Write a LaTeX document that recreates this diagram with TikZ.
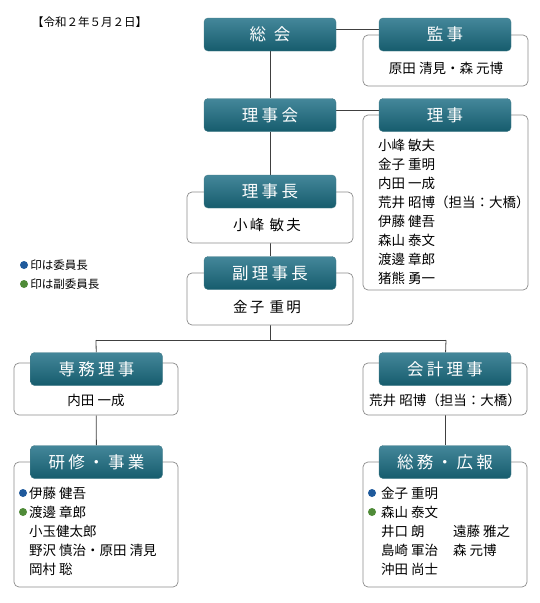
\documentclass[tikz,border=0pt]{standalone}
\usepackage{fontspec}
\setmainfont{Noto Sans CJK JP}
\usetikzlibrary{positioning,backgrounds}
\definecolor{headtop}{HTML}{44879A}
\definecolor{headbot}{HTML}{165C6D}
\definecolor{frame}{HTML}{8C8C8C}
\definecolor{chairdot}{HTML}{1F5A9C}
\definecolor{vicedot}{HTML}{4F8B38}
\tikzset{
  headbox/.style={rounded corners=4pt, top color=headtop, bottom color=headbot, draw=headbot!80,
    minimum width=132pt, minimum height=33pt, inner sep=0pt, text=white,
    font=\fontsize{16.5}{18}\selectfont\addfontfeature{LetterSpace=20}},
  bodybox/.style={rounded corners=5pt, draw=frame, fill=white, line width=0.7pt, inner sep=0pt},
  person/.style={font=\fontsize{13.5}{15}\selectfont, inner sep=0pt},
  smalltext/.style={font=\fontsize{11.5}{13}\selectfont, inner sep=0pt},
  dotmark/.style={circle, inner sep=0pt, minimum size=8pt},
  link/.style={draw=black!75, line width=0.8pt}
}
\begin{document}
\begin{tikzpicture}[x=1pt, y=-1pt]
    \useasboundingbox (0,0) rectangle (540,603);
    \coordinate (split) at (270,340);
    \coordinate (splitL) at (96,340);
    \coordinate (splitR) at (446,340);
    % bodies
    \node[bodybox, minimum width=165pt, minimum height=51pt] (kanji-body) at (445.5,60.5) {};
    \node[bodybox, minimum width=165pt, minimum height=175pt] (riji-body) at (445.5,202.5) {};
    \node[bodybox, minimum width=166pt, minimum height=51pt] (chojo-body) at (270,217.5) {};
    \node[bodybox, minimum width=166pt, minimum height=52pt] (fuku-body) at (270,299) {};
    \node[bodybox, minimum width=164pt, minimum height=52pt] (senmu-body) at (96,389) {};
    \node[bodybox, minimum width=164pt, minimum height=52pt] (kaikei-body) at (445,389) {};
    \node[bodybox, minimum width=164pt, minimum height=125pt] (kenshu-body) at (96,524.5) {};
    \node[bodybox, minimum width=164pt, minimum height=125pt] (somu-body) at (445,524.5) {};
    % headers
    \node[headbox] (sokai) at (270,34.5) {総\hspace{8pt}会};
    \node[headbox] (kanji) at (445,34.5) {監事};
    \node[headbox] (rijikai) at (270,115) {理事会};
    \node[headbox] (riji) at (445,115) {理事};
    \node[headbox] (chojo) at (270,191.5) {理事長};
    \node[headbox] (fuku) at (270,273) {副理事長};
    \node[headbox] (senmu) at (96.5,369) {専務理事};
    \node[headbox] (kaikei) at (445,369) {会計理事};
    \node[headbox] (kenshu) at (96.5,462) {研修・事業};
    \node[headbox] (somu) at (445,462) {総務・広報};
    % lines
    \begin{scope}[on background layer]
    \draw[link] ([yshift=5.5pt]sokai.east) -- ([yshift=5.5pt]kanji.west);
    \draw[link] ([yshift=5pt]rijikai.east) -- ([yshift=5pt]riji.west);
    \draw[link] (sokai) -- (rijikai);
    \draw[link] (rijikai) -- (chojo);
    \draw[link] (chojo-body) -- (fuku);
    \draw[link] (fuku-body) -- (split);
    \draw[link] (splitL) -- (splitR);
    \draw[link] (splitL) -- (senmu);
    \draw[link] (splitR) -- (kaikei);
    \draw[link] (senmu-body) -- (kenshu);
    \draw[link] (kaikei-body) -- (somu);
    \end{scope}
    % date and legend
    \node[smalltext, anchor=west] (date) at (32,22) {【令和２年５月２日】};
    \node[dotmark, fill=chairdot] (dot-chair) at (24,265) {};
    \node[smalltext, anchor=west] (leg-chair) at (dot-chair.east) {\,印は委員長};
    \node[dotmark, fill=vicedot] (dot-vice) at (24,284) {};
    \node[smalltext, anchor=west] (leg-vice) at (dot-vice.east) {\,印は副委員長};
    % names
    \node[person] (kanji-nm) at (446,68) {原田 清見・森 元博};
    \foreach \nm [count=\i] in {小峰 敏夫, 金子 重明, 内田 一成, 荒井 昭博（担当：大橋）,
        伊藤 健吾, 森山 泰文, 渡邊 章郎, 猪熊 勇一}
      \node[person, anchor=west] (riji-\i) at (378,{126+19*\i}) {\nm};
    \node[person, font=\fontsize{14.5}{16}\selectfont\addfontfeature{LetterSpace=15}] (chojo-nm) at (267,225) {小峰 敏夫};
    \node[person, font=\fontsize{14.5}{16}\selectfont\addfontfeature{LetterSpace=15}] (fuku-nm) at (267,307) {金子 重明};
    \node[person] (senmu-nm) at (96,400) {内田 一成};
    \node[person] (kaikei-nm) at (445,400) {荒井 昭博（担当：大橋）};
    \foreach \nm [count=\i] in {伊藤 健吾, 渡邊 章郎, 小玉健太郎, 野沢 慎治・原田 清見, 岡村 聡}
      \node[person, anchor=west] (kenshu-\i) at (29,{474+19*\i}) {\nm};
    \node[dotmark, fill=chairdot] (kenshu-dot1) at (23,493) {};
    \node[dotmark, fill=vicedot] (kenshu-dot2) at (23,512) {};
    \foreach \nm [count=\i] in {金子 重明, 森山 泰文, 井口 朗, 島崎 軍治, 沖田 尚士}
      \node[person, anchor=west] (somu-\i) at (381,{474+19*\i}) {\nm};
    \node[person, anchor=west] (somu-6) at (453,531) {遠藤 雅之};
    \node[person, anchor=west] (somu-7) at (453,550) {森 元博};
    \node[dotmark, fill=chairdot] (somu-dot1) at (372,493) {};
    \node[dotmark, fill=vicedot] (somu-dot2) at (372,512) {};
\end{tikzpicture}
\end{document}
